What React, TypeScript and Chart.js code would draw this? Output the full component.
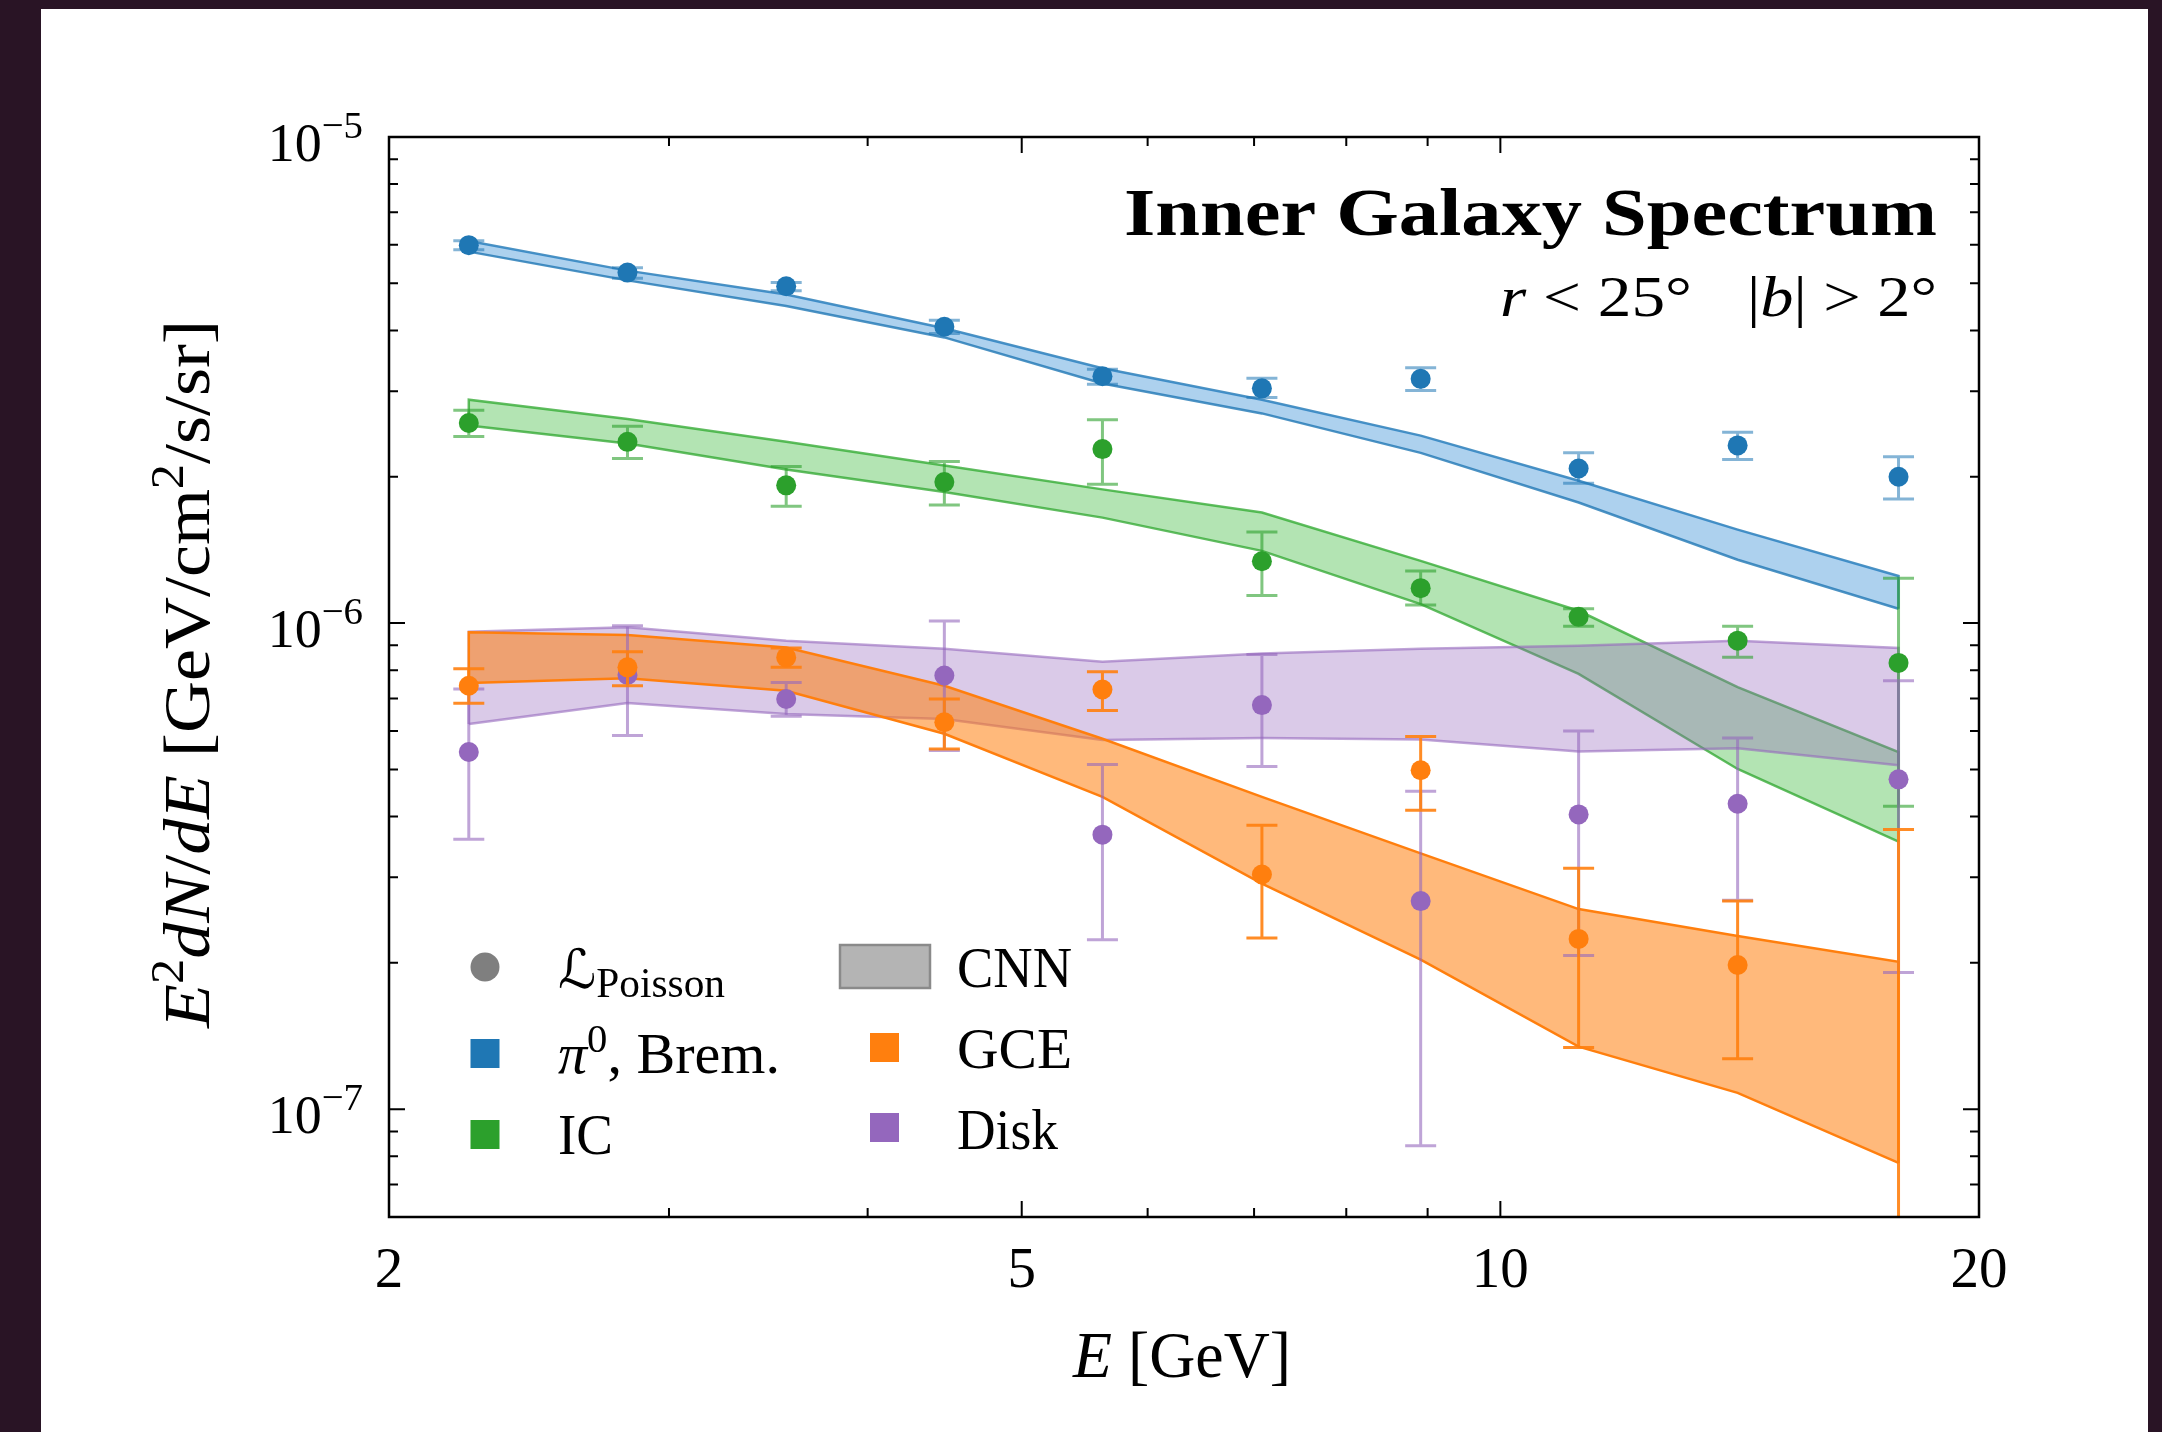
import React, { useEffect, useRef } from 'react';
import { Chart, registerables } from 'chart.js';

Chart.register(...registerables);

const W = 2162;
const H = 1432;
const AREA = { left: 389, top: 137, right: 1979, bottom: 1217 };

// ---------- data ----------
const energy = [2.245, 2.825, 3.555, 4.47, 5.62, 7.08, 8.91, 11.2, 14.1, 17.8];

// Poisson likelihood points (value, upper error, lower error)
const piBremVal = [5.99e-6, 5.26e-6, 4.93e-6, 4.07e-6, 3.22e-6, 3.04e-6, 3.18e-6, 2.08e-6, 2.32e-6, 2.0e-6];
const piBremHi = [6.12e-6, 5.38e-6, 5.02e-6, 4.2e-6, 3.33e-6, 3.19e-6, 3.35e-6, 2.24e-6, 2.47e-6, 2.2e-6];
const piBremLo = [5.86e-6, 5.12e-6, 4.83e-6, 3.94e-6, 3.1e-6, 2.91e-6, 3.01e-6, 1.94e-6, 2.17e-6, 1.8e-6];

const icVal = [2.58e-6, 2.36e-6, 1.92e-6, 1.95e-6, 2.28e-6, 1.34e-6, 1.18e-6, 1.03e-6, 9.2e-7, 8.28e-7];
const icHi = [2.74e-6, 2.54e-6, 2.1e-6, 2.15e-6, 2.62e-6, 1.54e-6, 1.28e-6, 1.07e-6, 9.85e-7, 1.236e-6];
const icLo = [2.42e-6, 2.18e-6, 1.74e-6, 1.75e-6, 1.93e-6, 1.14e-6, 1.09e-6, 9.85e-7, 8.51e-7, 4.2e-7];

const gceVal = [7.43e-7, 8.11e-7, 8.5e-7, 6.25e-7, 7.3e-7, 3.04e-7, 4.98e-7, 2.24e-7, 1.98e-7, 2.0e-8];
const gceHi = [8.05e-7, 8.73e-7, 8.89e-7, 6.98e-7, 7.94e-7, 3.84e-7, 5.84e-7, 3.13e-7, 2.68e-7, 3.76e-7];
const gceLo = [6.84e-7, 7.43e-7, 8.11e-7, 5.51e-7, 6.61e-7, 2.25e-7, 4.12e-7, 1.34e-7, 1.27e-7, 1.0e-9];

const diskVal = [5.43e-7, 7.82e-7, 6.98e-7, 7.8e-7, 3.67e-7, 6.78e-7, 2.68e-7, 4.04e-7, 4.25e-7, 4.77e-7];
const diskHi = [7.32e-7, 9.87e-7, 7.55e-7, 1.01e-6, 5.12e-7, 8.62e-7, 4.51e-7, 6.0e-7, 5.8e-7, 7.61e-7];
const diskLo = [3.59e-7, 5.87e-7, 6.43e-7, 5.47e-7, 2.23e-7, 5.07e-7, 8.41e-8, 2.07e-7, 2.69e-7, 1.91e-7];

// CNN bands (upper / lower)
const piBremBandHi = [6.11e-6, 5.31e-6, 4.74e-6, 4.04e-6, 3.345e-6, 2.88e-6, 2.43e-6, 1.963e-6, 1.557e-6, 1.25e-6];
const piBremBandLo = [5.81e-6, 5.07e-6, 4.49e-6, 3.87e-6, 3.11e-6, 2.7e-6, 2.24e-6, 1.77e-6, 1.35e-6, 1.07e-6];

const icBandHi = [2.88e-6, 2.63e-6, 2.36e-6, 2.11e-6, 1.884e-6, 1.688e-6, 1.343e-6, 1.06e-6, 7.38e-7, 5.43e-7];
const icBandLo = [2.55e-6, 2.34e-6, 2.07e-6, 1.86e-6, 1.648e-6, 1.408e-6, 1.094e-6, 7.86e-7, 5.01e-7, 3.55e-7];

const gceBandHi = [9.57e-7, 9.45e-7, 8.91e-7, 7.43e-7, 5.78e-7, 4.39e-7, 3.36e-7, 2.58e-7, 2.27e-7, 2.01e-7];
const gceBandLo = [7.53e-7, 7.7e-7, 7.26e-7, 5.92e-7, 4.39e-7, 2.91e-7, 2.03e-7, 1.345e-7, 1.08e-7, 7.75e-8];

const diskBandHi = [9.6e-7, 9.8e-7, 9.2e-7, 8.85e-7, 8.33e-7, 8.66e-7, 8.85e-7, 8.98e-7, 9.2e-7, 8.89e-7];
const diskBandLo = [6.2e-7, 6.85e-7, 6.5e-7, 6.35e-7, 5.75e-7, 5.8e-7, 5.76e-7, 5.44e-7, 5.53e-7, 5.1e-7];

// ticks
const xMajorTicks = [2, 5, 10, 20];
const xMajorLabels = ['2', '5', '10', '20'];
const xMinorTicks = [3, 4, 6, 7, 8, 9];
const yMajorTicks = [1e-7, 1e-6, 1e-5];
const yMajorExponents = ['\u22127', '\u22126', '\u22125'];
const yMinorTicks = [
  7e-8, 8e-8, 9e-8,
  2e-7, 3e-7, 4e-7, 5e-7, 6e-7, 7e-7, 8e-7, 9e-7,
  2e-6, 3e-6, 4e-6, 5e-6, 6e-6, 7e-6, 8e-6, 9e-6,
];

// ---------- colours ----------
const C_BLUE = '#1f77b4';
const C_GREEN = '#2ca02c';
const C_ORANGE = '#ff7f0e';
const C_PURPLE = '#9467bd';

const SERIF = '"Liberation Serif", "Times New Roman", serif';

type Seg = { t: string; it?: boolean; bf?: boolean; sup?: boolean; sub?: boolean; f?: string; k?: number; dy?: number };

function segSize(s: Seg, size: number) {
  if (s.k) return size * s.k;
  if (s.sup) return size * 0.7;
  if (s.sub) return size * 0.72;
  return size;
}
function segFont(s: Seg, size: number) {
  return `${s.it ? 'italic ' : ''}${s.bf ? 'bold ' : ''}${segSize(s, size)}px ${s.f || SERIF}`;
}
function drawRich(
  ctx: CanvasRenderingContext2D,
  segs: Seg[],
  x: number,
  y: number,
  size: number,
  align: 'left' | 'right' | 'center',
  width?: number,
  rot?: number,
) {
  ctx.save();
  let total = 0;
  const ws = segs.map((s) => {
    ctx.font = segFont(s, size);
    const w = ctx.measureText(s.t).width;
    total += w;
    return w;
  });
  const sx = width ? width / total : 1;
  ctx.translate(x, y);
  if (rot) ctx.rotate(rot);
  ctx.scale(sx, 1);
  let cx = align === 'left' ? 0 : align === 'right' ? -total : -total / 2;
  ctx.textAlign = 'left';
  ctx.textBaseline = 'alphabetic';
  ctx.fillStyle = '#000';
  segs.forEach((s, i) => {
    ctx.font = segFont(s, size);
    let dy = 0;
    if (s.dy !== undefined) dy = s.dy * size;
    else if (s.sup) dy = -0.4 * size;
    else if (s.sub) dy = 0.16 * size;
    ctx.fillText(s.t, cx, dy);
    cx += ws[i];
  });
  ctx.restore();
}

// ---------- datasets ----------
function pts(vals: number[]) {
  return energy.map((x, i) => ({ x, y: vals[i] }));
}
function band(hi: number[], lo: number[], edge: string, fillCol: string, order: number) {
  const n = energy.length;
  const upper = [
    { x: energy[0], y: lo[0] },
    ...pts(hi),
    { x: energy[n - 1], y: lo[n - 1] },
  ];
  return [
    {
      data: upper,
      showLine: true,
      pointRadius: 0,
      borderColor: edge,
      borderWidth: 2.5,
      backgroundColor: fillCol,
      fill: false,
      tension: 0,
      order,
    },
    {
      data: pts(lo),
      showLine: true,
      pointRadius: 0,
      borderColor: edge,
      borderWidth: 2.5,
      backgroundColor: fillCol,
      fill: '-1',
      tension: 0,
      order: order - 1,
    },
  ];
}
function points(vals: number[], hi: number[], lo: number[], color: string, errColor: string, order: number) {
  return {
    data: pts(vals),
    showLine: false,
    pointRadius: 10,
    pointHoverRadius: 10,
    pointBorderWidth: 0,
    pointBackgroundColor: color,
    backgroundColor: color,
    borderColor: color,
    errHi: hi,
    errLo: lo,
    errColor,
    order,
  };
}

const datasets: any[] = [
  ...band(piBremBandHi, piBremBandLo, 'rgba(31,119,180,0.8)', 'rgba(40,135,210,0.38)', 100),
  ...band(icBandHi, icBandLo, 'rgba(44,165,44,0.75)', 'rgba(44,180,44,0.36)', 90),
  ...band(diskBandHi, diskBandLo, 'rgba(148,103,189,0.6)', 'rgba(148,103,189,0.35)', 80),
  ...band(gceBandHi, gceBandLo, 'rgba(255,127,14,1)', 'rgba(255,127,14,0.55)', 70),
  points(piBremVal, piBremHi, piBremLo, C_BLUE, 'rgba(31,119,180,0.55)', 40),
  points(icVal, icHi, icLo, C_GREEN, 'rgba(44,160,44,0.6)', 30),
  points(diskVal, diskHi, diskLo, C_PURPLE, 'rgba(148,103,189,0.6)', 20),
  points(gceVal, gceHi, gceLo, C_ORANGE, 'rgba(255,127,14,0.9)', 10),
];

// ---------- plugins ----------
const bgPlugin = {
  id: 'bg',
  beforeDraw(chart: any) {
    const ctx = chart.ctx as CanvasRenderingContext2D;
    ctx.save();
    ctx.fillStyle = '#291425';
    ctx.fillRect(0, 0, W, H);
    ctx.fillStyle = '#ffffff';
    ctx.fillRect(41, 9, 2107, H - 9);
    ctx.restore();
  },
};

const errPlugin = {
  id: 'errbars',
  beforeDatasetDraw(chart: any, args: any) {
    const ds: any = chart.data.datasets[args.index];
    if (!ds.errLo) return;
    const ctx = chart.ctx as CanvasRenderingContext2D;
    const a = chart.chartArea;
    const xs = chart.scales.x;
    const ys = chart.scales.y;
    ctx.save();
    ctx.beginPath();
    ctx.rect(a.left, a.top, a.right - a.left, a.bottom - a.top);
    ctx.clip();
    ctx.strokeStyle = ds.errColor;
    ctx.lineWidth = 3;
    ds.data.forEach((p: any, i: number) => {
      const px = xs.getPixelForValue(p.x);
      const yh = ys.getPixelForValue(ds.errHi[i]);
      const yl = ys.getPixelForValue(ds.errLo[i]);
      ctx.beginPath();
      ctx.moveTo(px, yh);
      ctx.lineTo(px, yl);
      ctx.moveTo(px - 15.5, yh);
      ctx.lineTo(px + 15.5, yh);
      ctx.moveTo(px - 15.5, yl);
      ctx.lineTo(px + 15.5, yl);
      ctx.stroke();
    });
    ctx.restore();
  },
};

const decorPlugin = {
  id: 'decor',
  afterDraw(chart: any) {
    const ctx = chart.ctx as CanvasRenderingContext2D;
    const a = chart.chartArea;
    const xs = chart.scales.x;
    const ys = chart.scales.y;
    ctx.save();

    // ticks (inward, all four sides)
    ctx.strokeStyle = '#000';
    ctx.lineWidth = 2;
    const MAJ = 16;
    const MIN = 9;
    const xt = (v: number, len: number) => {
      const px = xs.getPixelForValue(v);
      ctx.beginPath();
      ctx.moveTo(px, a.bottom);
      ctx.lineTo(px, a.bottom - len);
      ctx.moveTo(px, a.top);
      ctx.lineTo(px, a.top + len);
      ctx.stroke();
    };
    const yt = (v: number, len: number) => {
      const py = ys.getPixelForValue(v);
      ctx.beginPath();
      ctx.moveTo(a.left, py);
      ctx.lineTo(a.left + len, py);
      ctx.moveTo(a.right, py);
      ctx.lineTo(a.right - len, py);
      ctx.stroke();
    };
    xMajorTicks.forEach((v) => xt(v, MAJ));
    xMinorTicks.forEach((v) => xt(v, MIN));
    yMajorTicks.forEach((v) => yt(v, MAJ));
    yMinorTicks.forEach((v) => yt(v, MIN));

    // frame
    ctx.lineWidth = 2.5;
    ctx.strokeRect(a.left, a.top, a.right - a.left, a.bottom - a.top);

    // x tick labels
    xMajorTicks.forEach((v, i) => {
      drawRich(ctx, [{ t: xMajorLabels[i] }], xs.getPixelForValue(v), 1287, 57, 'center');
    });
    // y tick labels
    yMajorTicks.forEach((v, i) => {
      const py = ys.getPixelForValue(v);
      drawRich(ctx, [{ t: '10' }, { t: yMajorExponents[i], sup: true, k: 0.72, dy: -0.42 }], 363, py + 24, 54, 'right');
    });

    // axis labels
    drawRich(ctx, [{ t: 'E', it: true }, { t: ' [GeV]' }], 1182, 1377, 66, 'center', 218);
    drawRich(
      ctx,
      [
        { t: 'E', it: true },
        { t: '2', sup: true },
        { t: 'dN', it: true },
        { t: '/' },
        { t: 'dE', it: true },
        { t: ' [GeV/cm' },
        { t: '2', sup: true },
        { t: '/s/sr]' },
      ],
      209,
      674,
      66,
      'center',
      708,
      -Math.PI / 2,
    );

    // title
    drawRich(ctx, [{ t: 'Inner Galaxy Spectrum', bf: true }], 1937, 235, 68, 'right', 813);
    drawRich(ctx, [{ t: 'r', it: true }, { t: ' < 25\u00b0' }], 1500, 316, 56, 'left', 192);
    drawRich(ctx, [{ t: '|' }, { t: 'b', it: true }, { t: '| > 2\u00b0' }], 1937, 316, 56, 'right', 190);

    // legend
    ctx.fillStyle = '#7f7f7f';
    ctx.beginPath();
    ctx.arc(485, 967, 14.5, 0, Math.PI * 2);
    ctx.fill();
    ctx.fillStyle = C_BLUE;
    ctx.fillRect(470.5, 1039, 29, 29);
    ctx.fillStyle = C_GREEN;
    ctx.fillRect(470.5, 1120, 29, 29);
    ctx.fillStyle = '#b4b4b4';
    ctx.fillRect(840, 945, 90, 43);
    ctx.strokeStyle = '#8a8a8a';
    ctx.lineWidth = 2.5;
    ctx.strokeRect(840, 945, 90, 43);
    ctx.fillStyle = C_ORANGE;
    ctx.fillRect(870, 1033, 29, 29);
    ctx.fillStyle = C_PURPLE;
    ctx.fillRect(870, 1113, 29, 29);

    drawRich(
      ctx,
      [
        { t: '\u2112', f: '"DejaVu Serif", "DejaVu Sans", serif', it: true, k: 0.95 },
        { t: 'Poisson', sub: true, k: 0.74, dy: 0.15 },
      ],
      558,
      988,
      57,
      'left',
      167,
    );
    drawRich(
      ctx,
      [{ t: '\u03c0', it: true }, { t: '0', sup: true, dy: -0.36 }, { t: ', Brem.' }],
      558,
      1073,
      57,
      'left',
      222,
    );
    drawRich(ctx, [{ t: 'IC' }], 558, 1154, 57, 'left', 55);
    drawRich(ctx, [{ t: 'CNN' }], 957, 987, 57, 'left', 115);
    drawRich(ctx, [{ t: 'GCE' }], 957, 1068, 57, 'left', 115);
    drawRich(ctx, [{ t: 'Disk' }], 957, 1149, 57, 'left', 101);

    ctx.restore();
  },
};

export default function App() {
  const ref = useRef<HTMLCanvasElement>(null);
  useEffect(() => {
    const canvas = ref.current;
    if (!canvas) return;
    const chart = new Chart(canvas, {
      type: 'scatter',
      data: { datasets },
      options: {
        animation: false,
        responsive: false,
        maintainAspectRatio: false,
        devicePixelRatio: 1,
        events: [],
        layout: {
          padding: {
            left: AREA.left,
            top: AREA.top,
            right: W - AREA.right,
            bottom: H - AREA.bottom,
          },
        },
        scales: {
          x: { type: 'logarithmic', min: 2, max: 20, display: false, bounds: 'data' },
          y: { type: 'logarithmic', min: 6e-8, max: 1e-5, display: false, bounds: 'data' },
        },
        plugins: {
          legend: { display: false },
          tooltip: { enabled: false },
        },
      } as any,
      plugins: [bgPlugin, errPlugin, decorPlugin],
    });
    return () => chart.destroy();
  }, []);
  return (
    <div style={{ position: 'fixed', left: 0, top: 0, width: W, height: H }}>
      <canvas ref={ref} width={W} height={H} style={{ display: 'block', width: W, height: H }} />
    </div>
  );
}
